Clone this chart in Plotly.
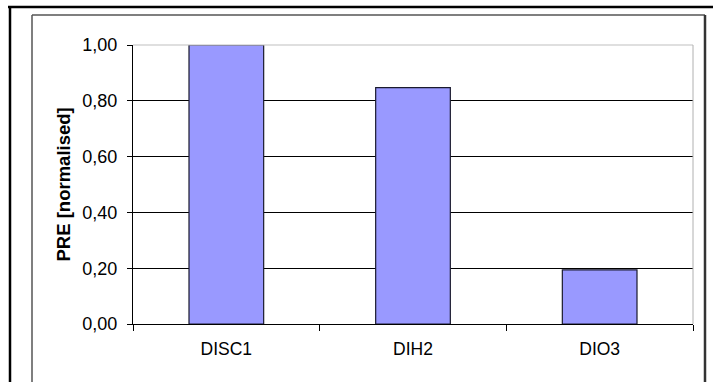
import plotly.graph_objects as go

categories = ["DISC1", "DIH2", "DIO3"]
pre_values = [1.00, 0.847, 0.194]
y_ticks = [0.0, 0.2, 0.4, 0.6, 0.8, 1.0]

W, H = 719, 382
L, R, T, B = 133, 693, 45, 324  # plot area in pixels


def px(x):
    return (x - L) / (R - L)


def py(y):
    return (B - y) / (B - T)


fig = go.Figure(
    go.Bar(
        x=categories,
        y=pre_values,
        width=0.4,
        marker=dict(color="#9999FF", line=dict(color="#1a1a2e", width=1.2)),
    )
)

font = "Liberation Sans, Arial, sans-serif"

frame = [
    # outer frame (top and left)
    dict(x0=px(8), x1=px(713), y0=py(7), y1=py(7), color="#000000", width=2.5),
    dict(x0=px(10), x1=px(10), y0=py(7), y1=py(390), color="#000000", width=2.5),
    # chart-area border
    dict(x0=px(32), x1=px(705), y0=py(15), y1=py(15), color="#555555", width=1.5),
    dict(x0=px(32), x1=px(32), y0=py(15), y1=py(390), color="#555555", width=1.5),
    dict(x0=px(705), x1=px(705), y0=py(15), y1=py(390), color="#333333", width=2.5),
    # plot-area border (top, right)
    dict(x0=0, x1=1, y0=1, y1=1, color="#c0c0c0", width=1.2),
    dict(x0=1, x1=1, y0=0, y1=1, color="#b0b0b0", width=1),
]
shapes = [
    dict(type="line", xref="paper", yref="paper", x0=f["x0"], x1=f["x1"],
         y0=f["y0"], y1=f["y1"], line=dict(color=f["color"], width=f["width"]),
         layer="above")
    for f in frame
]

fig.update_layout(
    width=W,
    height=H,
    margin=dict(l=L, r=W - R, t=T, b=H - B, pad=0),
    paper_bgcolor="white",
    plot_bgcolor="white",
    separators=",.",
    showlegend=False,
    font=dict(family=font, size=17, color="#000000"),
    shapes=shapes,
    annotations=[
        dict(
            text="<b>PRE [normalised]</b>",
            xref="paper", yref="paper",
            x=px(63), y=0.5,
            xanchor="center", yanchor="middle",
            textangle=-90, showarrow=False,
            font=dict(family=font, size=18.5, color="#000000"),
        )
    ],
)

fig.update_xaxes(
    type="category",
    showline=True, linecolor="#000000", linewidth=1,
    ticks="outside", tickson="boundaries", ticklen=6, tickcolor="#000000",
    showgrid=False,
    tickfont=dict(family=font, size=17.5),
    ticklabelstandoff=9,
)

fig.update_yaxes(
    range=[0, 1],
    tickvals=y_ticks,
    tickformat=".2f",
    showline=True, linecolor="#000000", linewidth=1,
    ticks="outside", ticklen=5, tickcolor="#000000",
    showgrid=True, gridcolor="#000000", gridwidth=1,
    zeroline=False,
    tickfont=dict(family=font, size=18),
    ticklabelstandoff=6,
)

fig.write_html("out.html")
